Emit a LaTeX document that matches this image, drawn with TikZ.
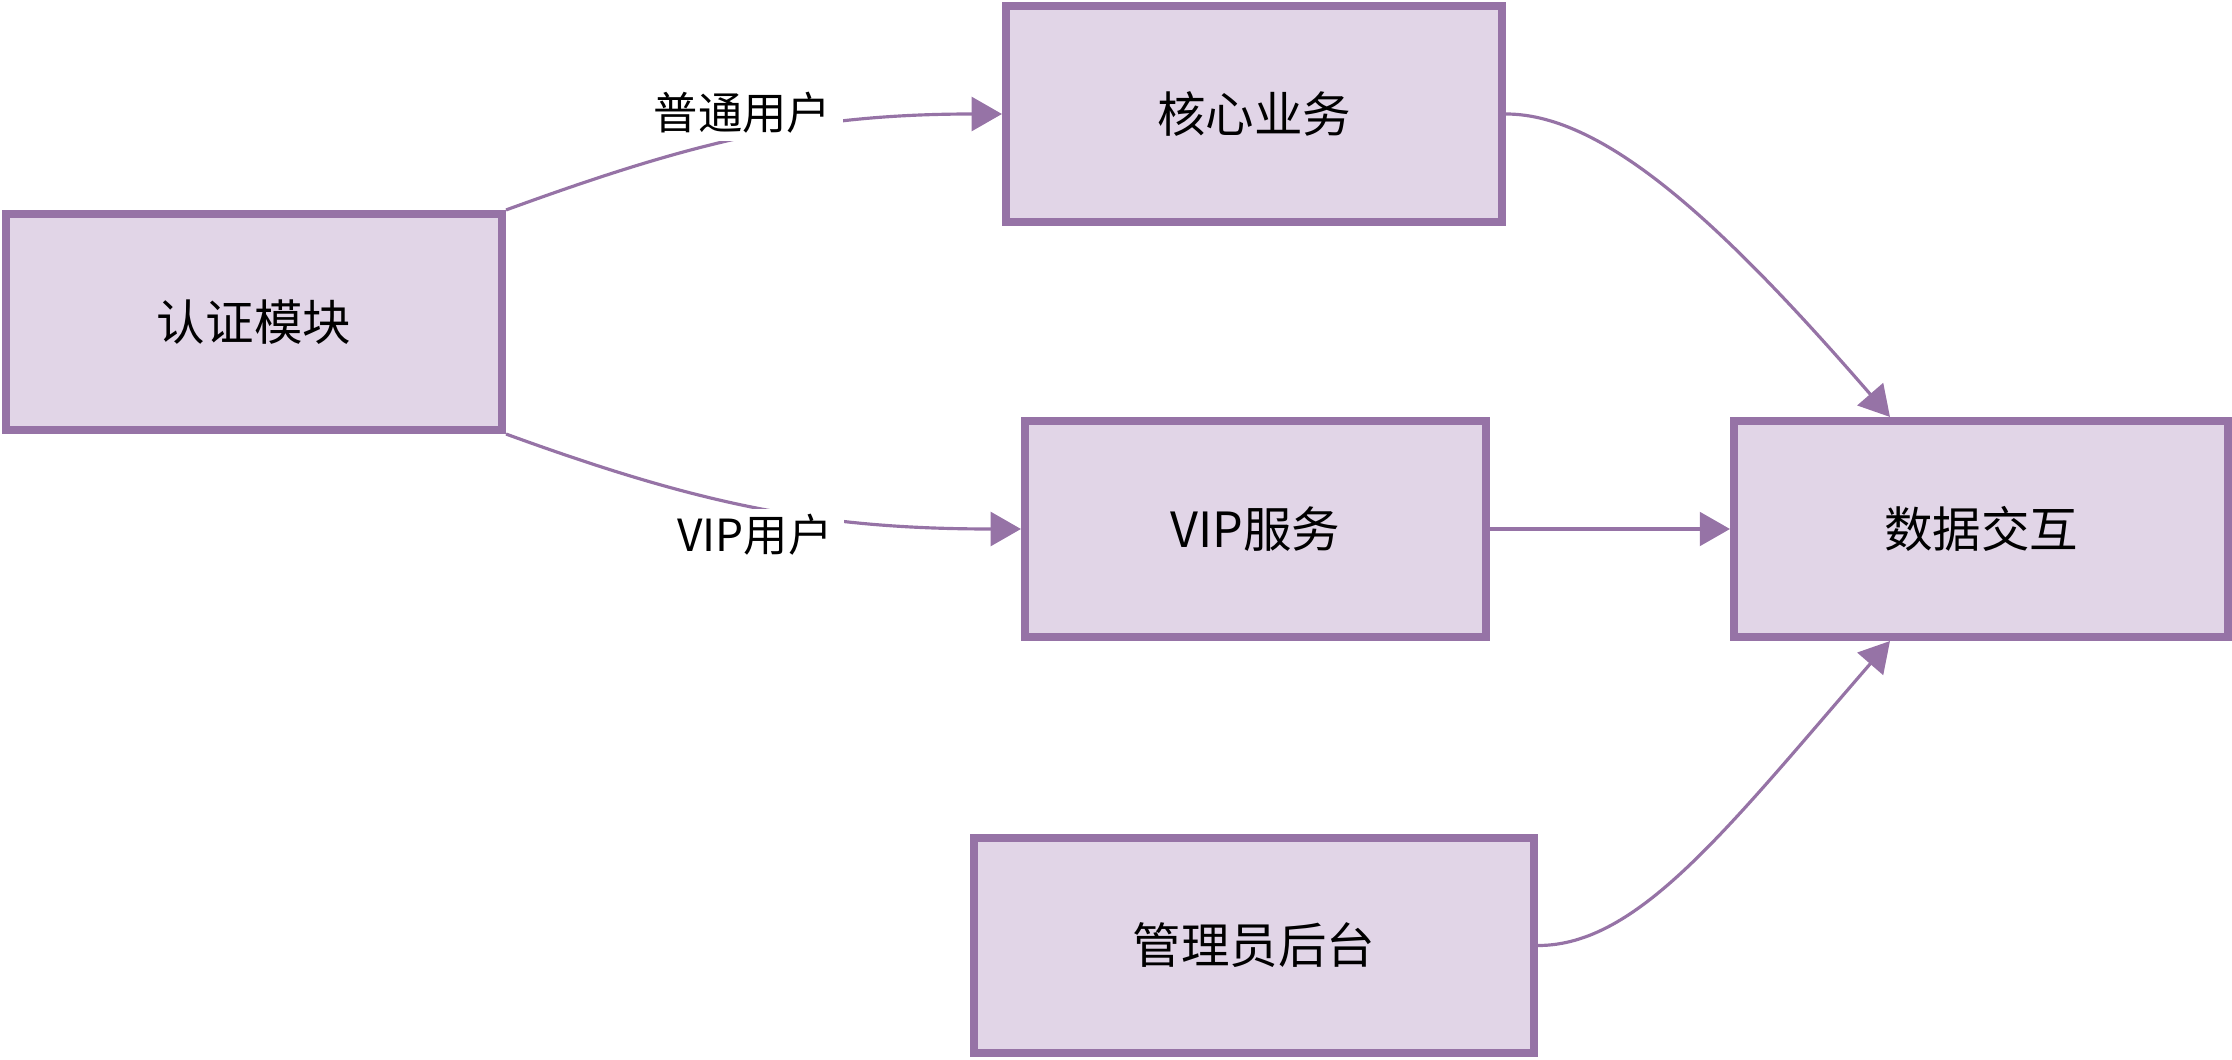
\documentclass[tikz,border=0pt]{standalone}
\usepackage{fontspec}
\newfontfamily\cjk{Noto Sans CJK SC}
\usetikzlibrary{arrows.meta}
\definecolor{my purple}{HTML}{9673A6}
\definecolor{my lilac}{HTML}{E1D5E7}

\begin{document}
\begin{tikzpicture}[
    module/.style = {draw = my purple, fill = my lilac, line width = 2.3pt, minimum height = 2.16cm,
                     font = \cjk\fontsize{13.8}{16}\selectfont},
    flow/.style = {my purple, line width = 0.9pt, -{Triangle[length = 8.6pt, width = 9.6pt]}},
    tag/.style = {fill = white, text = black, inner xsep = 0.12cm, inner ysep = 0.05cm,
                  font = \cjk\fontsize{12.6}{14}\selectfont}
  ]
            \useasboundingbox (0, 0) rectangle (22.32, -10.60);
            % modules
            \node [module, minimum width = 4.96cm] (auth) at (2.54, -3.22) {认证模块};
            \node [module, minimum width = 4.96cm] (core) at (12.54, -1.14) {核心业务};
            \node [module, minimum width = 4.61cm] (vip) at (12.555, -5.29) {VIP服务};
            \node [module, minimum width = 4.94cm] (data) at (19.81, -5.29) {数据交互};
            \node [module, minimum width = 5.60cm, minimum height = 2.15cm] (admin) at (12.54, -9.455) {管理员后台};
            % connections
            \draw [flow] (auth.north east) to [out = 20, in = 180]
                node [tag, above = -0.06cm, xshift = -0.07cm, inner ysep = 0.08cm] (normal) {普通用户} (core.west);
            \draw [flow] (auth.south east) to [out = -20, in = 180]
                node [tag, below, xshift = -0.04cm] (vipuser) {VIP用户} (vip.west);
            \draw [flow] (vip.east) -- (data.west);
            \draw [flow] (core.east) .. controls +(1, 0) and +(-1.64, 1.89) .. ([xshift = 1.6cm] data.north west);
            \draw [flow] (admin.east) .. controls +(1, 0) and +(-1.64, -1.89) .. ([xshift = 1.6cm] data.south west);
        \end{tikzpicture}
\end{document}
